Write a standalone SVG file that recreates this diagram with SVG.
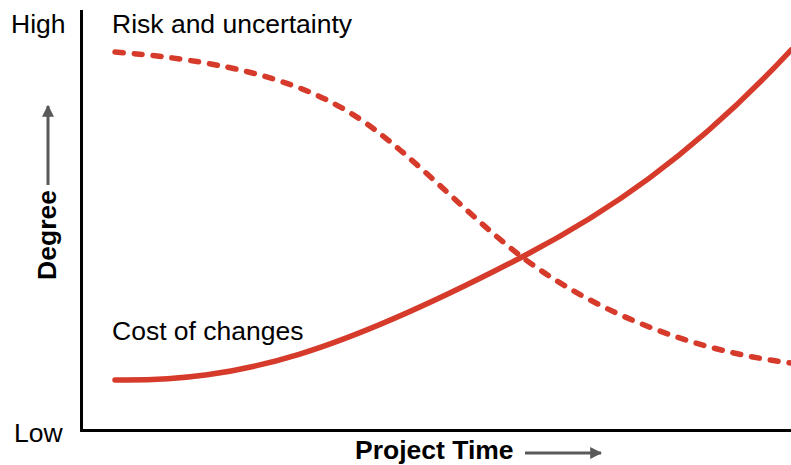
<svg xmlns="http://www.w3.org/2000/svg" width="791" height="465" viewBox="0 0 791 465">
<style>
.lbl{font-family:"Liberation Sans",Arial,sans-serif;font-size:26.5px;fill:#000}
.bold{font-weight:bold}
.curve{fill:none;stroke:#d63a2a;stroke-width:5.5;stroke-linecap:round}
.dash{stroke-dasharray:8 11}
.axis{stroke:#000;stroke-width:3;fill:none}
.garrow{stroke:#595959;stroke-width:3;fill:none}
</style>
<defs>
<marker id="ah" viewBox="0 0 10 10" refX="9" refY="5" markerWidth="4" markerHeight="4" markerUnits="strokeWidth" orient="auto">
<path d="M0,0 L10,5 L0,10 z" fill="#595959"/>
</marker>
</defs>
<rect width="791" height="465" fill="#fff"/>
<g id="axes">
<path class="axis" d="M81.5,10 V430.5 H791"/>
</g>
<g id="labels">
<text class="lbl" x="11" y="33">High</text>
<text class="lbl" x="14" y="442">Low</text>
<text class="lbl" x="112" y="33">Risk and uncertainty</text>
<text class="lbl" x="112" y="340">Cost of changes</text>
<text class="lbl bold" x="355" y="459">Project Time</text>
<text class="lbl bold" transform="translate(56,235) rotate(-90)" text-anchor="middle">Degree</text>
</g>
<g id="connectors">
<path class="garrow" d="M525,453 H601" marker-end="url(#ah)"/>
<path class="garrow" d="M48,185 V106" marker-end="url(#ah)"/>
<path id="risk" class="curve dash" d="M115,52 C293,66 350,107.5 400,150 C440,184 482,226.6 522,257 C567,291.2 661,346.75 791,363"/>
<path id="cost" class="curve" d="M115,380 C243,382 342,350.6 522,257 C602,215.4 691,158 791,50"/>
</g>
</svg>
